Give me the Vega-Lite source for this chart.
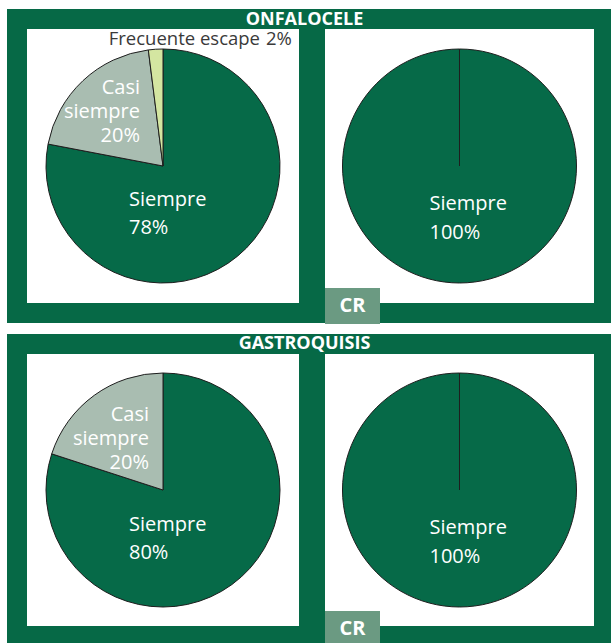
{
  "$schema": "https://vega.github.io/schema/vega-lite/v6.json",
  "background": "white",
  "padding": {"left": 7, "top": 9, "right": 0, "bottom": 0},
  "config": {"font": "Open Sans", "view": {"stroke": null}},
  "datasets": {
    "onfalocele": [
      {"frecuencia": "Siempre", "pct": 0.78},
      {"frecuencia": "Casi siempre", "pct": 0.20},
      {"frecuencia": "Frecuente escape", "pct": 0.02}
    ],
    "onfalocele_cr": [
      {"frecuencia": "Siempre", "pct": 1.0, "grupo": "CR"}
    ],
    "gastroquisis": [
      {"frecuencia": "Siempre", "pct": 0.80},
      {"frecuencia": "Casi siempre", "pct": 0.20}
    ],
    "gastroquisis_cr": [
      {"frecuencia": "Siempre", "pct": 1.0, "grupo": "CR"}
    ]
  },
  "resolve": {"scale": {"theta": "independent", "opacity": "independent"}, "legend": {"opacity": "independent"}},
  "spacing": 0,
  "vconcat": [
    {
      "title": {"text": "ONFALOCELE", "color": "white", "font": "Open Sans", "fontSize": 18, "fontWeight": "bold", "anchor": "middle", "offset": -20, "dx": -6},
      "resolve": {"scale": {"theta": "independent", "opacity": "independent"}, "legend": {"opacity": "independent"}},
      "bounds": "flush",
      "spacing": 6,
      "hconcat": [
        {
          "width": 292, "height": 294,
          "view": {"fill": "white", "stroke": "#066946", "strokeWidth": 20},
          "data": {"name": "onfalocele"},
          "layer": [
            {
              "mark": {"type": "arc", "outerRadius": 117, "stroke": "#1e1e1e", "strokeWidth": 1},
              "encoding": {
                "theta": {"field": "pct", "type": "quantitative", "stack": true},
                "order": {"field": "pct", "sort": "descending"},
                "color": {"field": "frecuencia", "type": "nominal", "legend": null,
                  "scale": {"domain": ["Siempre", "Casi siempre", "Frecuente escape"], "range": ["#066a48", "#a9bdb1", "#d4e6a1"]}}
              }
            },
            {
              "transform": [{"filter": {"field": "frecuencia", "equal": "Siempre"}}],
              "mark": {"type": "text", "align": "left", "baseline": "alphabetic", "dx": -34, "dy": 40, "fontSize": 20, "fill": "white"},
              "encoding": {"text": {"field": "frecuencia"}}
            },
            {
              "transform": [{"filter": {"field": "frecuencia", "equal": "Siempre"}}],
              "mark": {"type": "text", "align": "left", "baseline": "alphabetic", "dx": -34, "dy": 68, "fontSize": 20, "fill": "white"},
              "encoding": {"text": {"field": "pct", "format": ".0%"}}
            },
            {
              "transform": [{"filter": {"field": "frecuencia", "equal": "Casi siempre"}}],
              "mark": {"type": "text", "align": "right", "baseline": "alphabetic", "dx": -23, "dy": -72, "fontSize": 20, "lineBreak": " ", "lineHeight": 24, "fill": "white"},
              "encoding": {"text": {"field": "frecuencia"}}
            },
            {
              "transform": [{"filter": {"field": "frecuencia", "equal": "Casi siempre"}}],
              "mark": {"type": "text", "align": "right", "baseline": "alphabetic", "dx": -23, "dy": -24, "fontSize": 20, "fill": "white"},
              "encoding": {"text": {"field": "pct", "format": ".0%"}}
            },
            {
              "transform": [{"filter": {"field": "frecuencia", "equal": "Frecuente escape"}}],
              "mark": {"type": "text", "align": "right", "baseline": "alphabetic", "dx": 97, "dy": -121, "fontSize": 18.5, "fill": "#3a3a3a"},
              "encoding": {"text": {"field": "frecuencia"}}
            },
            {
              "transform": [{"filter": {"field": "frecuencia", "equal": "Frecuente escape"}}],
              "mark": {"type": "text", "align": "left", "baseline": "alphabetic", "dx": 103, "dy": -121, "fontSize": 18.5, "fill": "#3a3a3a"},
              "encoding": {"text": {"field": "pct", "format": ".0%"}}
            }
          ]
        },
        {
          "width": 289, "height": 294,
          "view": {"fill": "white", "stroke": "#066946", "strokeWidth": 20},
          "data": {"name": "onfalocele_cr"},
          "layer": [
            {
              "mark": {"type": "arc", "outerRadius": 117, "stroke": "#1e1e1e", "strokeWidth": 1},
              "encoding": {
                "theta": {"field": "pct", "type": "quantitative", "stack": true, "scale": {"range": [0, 6.28318]}},
                "color": {"field": "frecuencia", "type": "nominal", "legend": null,
                  "scale": {"domain": ["Siempre", "Casi siempre", "Frecuente escape"], "range": ["#066a48", "#a9bdb1", "#d4e6a1"]}},
                "opacity": {"field": "grupo", "type": "ordinal", "scale": {"range": [1, 1]},
                  "legend": {"title": null, "orient": "none", "legendX": 10, "legendY": 269,
                    "fillColor": "#6b9a82", "strokeColor": null, "padding": 8,
                    "symbolSize": 1, "symbolOffset": 28.5, "symbolOpacity": 0, "symbolFillColor": "transparent", "symbolStrokeColor": "transparent", "symbolStrokeWidth": 0,
                    "labelOffset": -42, "labelFont": "Open Sans", "labelFontSize": 20, "labelFontWeight": "bold", "labelColor": "white"}}
              }
            },
            {
              "mark": {"type": "text", "align": "left", "baseline": "alphabetic", "dx": -30, "dy": 44, "fontSize": 20, "fill": "white"},
              "encoding": {"text": {"field": "frecuencia"}}
            },
            {
              "mark": {"type": "text", "align": "left", "baseline": "alphabetic", "dx": -30, "dy": 73, "fontSize": 20, "fill": "white"},
              "encoding": {"text": {"field": "pct", "format": ".0%"}}
            }
          ]
        }
      ]
    },
    {
      "title": {"text": "GASTROQUISIS", "color": "white", "font": "Open Sans", "fontSize": 18, "fontWeight": "bold", "anchor": "middle", "offset": -19, "dx": -6},
      "resolve": {"scale": {"theta": "independent", "opacity": "independent"}, "legend": {"opacity": "independent"}},
      "bounds": "flush",
      "spacing": 6,
      "hconcat": [
        {
          "width": 292, "height": 292,
          "view": {"fill": "white", "stroke": "#066946", "strokeWidth": 20},
          "data": {"name": "gastroquisis"},
          "layer": [
            {
              "mark": {"type": "arc", "outerRadius": 117, "stroke": "#1e1e1e", "strokeWidth": 1},
              "encoding": {
                "theta": {"field": "pct", "type": "quantitative", "stack": true},
                "order": {"field": "pct", "sort": "descending"},
                "color": {"field": "frecuencia", "type": "nominal", "legend": null,
                  "scale": {"domain": ["Siempre", "Casi siempre", "Frecuente escape"], "range": ["#066a48", "#a9bdb1", "#d4e6a1"]}}
              }
            },
            {
              "transform": [{"filter": {"field": "frecuencia", "equal": "Siempre"}}],
              "mark": {"type": "text", "align": "left", "baseline": "alphabetic", "dx": -34, "dy": 41, "fontSize": 20, "fill": "white"},
              "encoding": {"text": {"field": "frecuencia"}}
            },
            {
              "transform": [{"filter": {"field": "frecuencia", "equal": "Siempre"}}],
              "mark": {"type": "text", "align": "left", "baseline": "alphabetic", "dx": -34, "dy": 69, "fontSize": 20, "fill": "white"},
              "encoding": {"text": {"field": "pct", "format": ".0%"}}
            },
            {
              "transform": [{"filter": {"field": "frecuencia", "equal": "Casi siempre"}}],
              "mark": {"type": "text", "align": "right", "baseline": "alphabetic", "dx": -14, "dy": -69, "fontSize": 20, "lineBreak": " ", "lineHeight": 24, "fill": "white"},
              "encoding": {"text": {"field": "frecuencia"}}
            },
            {
              "transform": [{"filter": {"field": "frecuencia", "equal": "Casi siempre"}}],
              "mark": {"type": "text", "align": "right", "baseline": "alphabetic", "dx": -14, "dy": -21, "fontSize": 20, "fill": "white"},
              "encoding": {"text": {"field": "pct", "format": ".0%"}}
            }
          ]
        },
        {
          "width": 289, "height": 292,
          "view": {"fill": "white", "stroke": "#066946", "strokeWidth": 20},
          "data": {"name": "gastroquisis_cr"},
          "layer": [
            {
              "mark": {"type": "arc", "outerRadius": 117, "stroke": "#1e1e1e", "strokeWidth": 1},
              "encoding": {
                "theta": {"field": "pct", "type": "quantitative", "stack": true, "scale": {"range": [0, 6.28318]}},
                "color": {"field": "frecuencia", "type": "nominal", "legend": null,
                  "scale": {"domain": ["Siempre", "Casi siempre", "Frecuente escape"], "range": ["#066a48", "#a9bdb1", "#d4e6a1"]}},
                "opacity": {"field": "grupo", "type": "ordinal", "scale": {"range": [1, 1]},
                  "legend": {"title": null, "orient": "none", "legendX": 10, "legendY": 267,
                    "fillColor": "#6b9a82", "strokeColor": null, "padding": 8,
                    "symbolSize": 1, "symbolOffset": 28.5, "symbolOpacity": 0, "symbolFillColor": "transparent", "symbolStrokeColor": "transparent", "symbolStrokeWidth": 0,
                    "labelOffset": -42, "labelFont": "Open Sans", "labelFontSize": 20, "labelFontWeight": "bold", "labelColor": "white"}}
              }
            },
            {
              "mark": {"type": "text", "align": "left", "baseline": "alphabetic", "dx": -30, "dy": 44, "fontSize": 20, "fill": "white"},
              "encoding": {"text": {"field": "frecuencia"}}
            },
            {
              "mark": {"type": "text", "align": "left", "baseline": "alphabetic", "dx": -30, "dy": 73, "fontSize": 20, "fill": "white"},
              "encoding": {"text": {"field": "pct", "format": ".0%"}}
            }
          ]
        }
      ]
    }
  ]
}
